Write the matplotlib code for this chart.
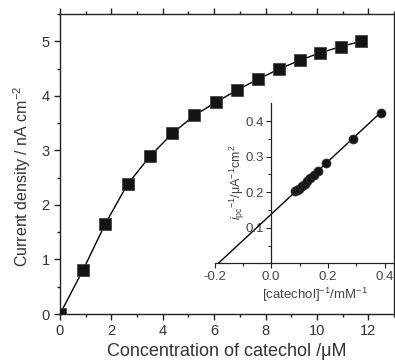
import matplotlib
matplotlib.use("Agg")
import matplotlib.pyplot as plt
import numpy as np
from matplotlib.ticker import MultipleLocator

plt.rcParams['font.family'] = ['Liberation Sans', 'DejaVu Sans']
plt.rcParams['mathtext.fontset'] = 'custom'
plt.rcParams['mathtext.rm'] = 'Liberation Sans'
plt.rcParams['mathtext.it'] = 'Liberation Sans:italic'

# Main data
conc_uM = [0.0, 0.9, 1.76, 2.63, 3.5, 4.37, 5.23, 6.06, 6.87, 7.69, 8.52, 9.33, 10.13, 10.92, 11.71]
current_density = [0.0, 0.81, 1.65, 2.38, 2.89, 3.31, 3.64, 3.88, 4.10, 4.30, 4.49, 4.65, 4.79, 4.90, 5.0]

# Inset data (reciprocal plot)
inv_conc = [0.085, 0.091, 0.097, 0.109, 0.118, 0.127, 0.136, 0.150, 0.167, 0.195, 0.289, 0.386]
inv_current = [0.2025, 0.206, 0.210, 0.217, 0.224, 0.231, 0.240, 0.249, 0.261, 0.282, 0.350, 0.423]
fit_slope = 0.74
fit_intercept = 0.138
fit_x_range = [-0.186, 0.386]

W, H = 395, 363
fig = plt.figure(figsize=(W / 100, H / 100), dpi=100)

# main axes: left 60px, right 394px, top 14px, bottom 314px
ax = fig.add_axes([60 / W, (H - 314) / H, (394 - 60) / W, (314 - 14) / H])
ax.plot(conc_uM, current_density, color='black', lw=1.0, marker='s', ms=8,
        markerfacecolor='#141414', markeredgecolor='#444444', markeredgewidth=0.6, zorder=3)
ax.set_xlim(0, 13)
ax.set_ylim(0, 5.5)
ax.xaxis.set_major_locator(MultipleLocator(2))
ax.xaxis.set_minor_locator(MultipleLocator(1))
ax.yaxis.set_major_locator(MultipleLocator(1))
ax.yaxis.set_minor_locator(MultipleLocator(0.5))
ax.tick_params(which='both', direction='out', top=True, right=False, labelsize=10.5, width=1.0,
               colors='#222222', labelcolor='#333333')
ax.tick_params(which='major', length=4)
ax.tick_params(which='minor', length=2.5)
for s in ['left', 'bottom', 'top', 'right']:
    ax.spines[s].set_linewidth(1.0)
    ax.spines[s].set_color('#222222')
ax.set_xlabel('Concentration of catechol /\u03bcM', fontsize=13, color='#333333', labelpad=3)
ax.set_ylabel('Current density / nA cm$^{-2}$', fontsize=11.5, color='#333333')
ax.yaxis.set_label_coords(-0.08, 0.46)

# inset axes: x from -0.2 (214.5px) to 0.43 (393px); y from 0 (263.3px) to 0.45 (103.3px)
axi = fig.add_axes([214.5 / W, (H - 263.3) / H, (393 - 214.5) / W, (263.3 - 103.3) / H])
axi.patch.set_alpha(0)
fx = np.array(fit_x_range)
axi.plot(fx, fit_slope * fx + fit_intercept, color='black', lw=1.0, zorder=2)
axi.plot(inv_conc, inv_current, linestyle='none', marker='o', ms=6.5,
         markerfacecolor='#141414', markeredgecolor='#333333', markeredgewidth=0.5, zorder=3)
axi.set_xlim(-0.2, 0.43)
axi.set_ylim(0, 0.45)
axi.spines['left'].set_position(('data', 0))
axi.spines['right'].set_visible(False)
axi.spines['top'].set_visible(False)
axi.set_xticks([-0.2, 0.0, 0.2, 0.4])
axi.set_xticklabels(['-0.2', '0.0', '0.2', '0.4'])
axi.xaxis.set_minor_locator(MultipleLocator(0.1))
axi.set_yticks([0.1, 0.2, 0.3, 0.4])
axi.set_yticks([0.05, 0.15, 0.25, 0.35], minor=True)
axi.tick_params(which='both', direction='out', labelsize=9.5, width=0.8,
                colors='#222222', labelcolor='#444444', pad=2)
axi.tick_params(which='major', length=3.5)
axi.tick_params(which='minor', length=2)
for s in ['left', 'bottom']:
    axi.spines[s].set_linewidth(0.9)
    axi.spines[s].set_color('#222222')
fig.text(315 / W, (H - 295) / H, '[catechol]$^{-1}$/mM$^{-1}$', fontsize=9.5, color='#444444',
         ha='center', va='center')
fig.text(237 / W, (H - 182) / H, '$i_{\\rm pc}$$^{-1}$/\u03bcA$^{-1}$cm$^{2}$', fontsize=9,
         color='#444444', ha='center', va='center', rotation=90)

fig.savefig('out.png', dpi=100)
